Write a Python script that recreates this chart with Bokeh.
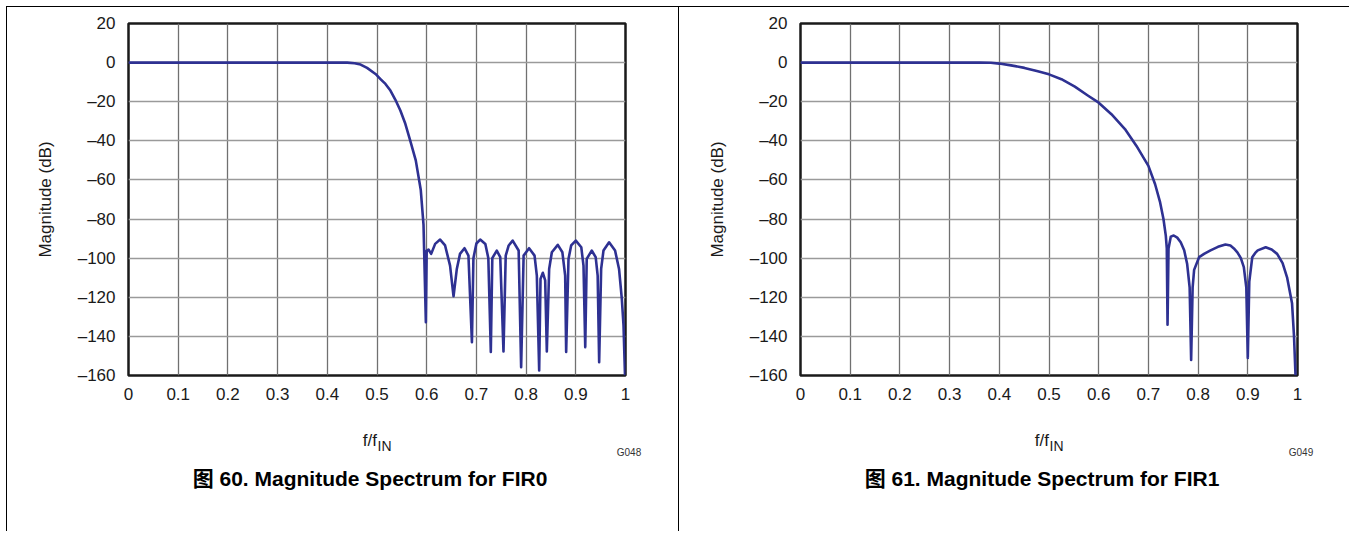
from bokeh.plotting import figure
from bokeh.layouts import row, column
from bokeh.models import FixedTicker, CustomJSTickFormatter, Range1d, Div
from bokeh.embed import file_html
from bokeh.resources import INLINE

# ---------------- data ----------------
freq_fir0 = [0.0, 0.44, 0.455, 0.467, 0.48, 0.497, 0.507, 0.517, 0.527, 0.537,
             0.547, 0.557, 0.567, 0.578, 0.588, 0.5936, 0.5983, 0.600, 0.6036,
             0.609, 0.617, 0.627, 0.637, 0.647, 0.654, 0.6606, 0.667, 0.676,
             0.684, 0.691, 0.694, 0.700, 0.7076, 0.718, 0.724, 0.729, 0.732,
             0.741, 0.748, 0.7545, 0.759, 0.765, 0.773, 0.785, 0.790, 0.795,
             0.806, 0.817, 0.8216, 0.8263, 0.829, 0.8337, 0.8384, 0.8417,
             0.8464, 0.8518, 0.8638, 0.873, 0.8786, 0.8806, 0.8853, 0.8907,
             0.900, 0.911, 0.9155, 0.919, 0.922, 0.932, 0.940, 0.944, 0.947,
             0.951, 0.9557, 0.967, 0.979, 0.987, 0.9926, 0.996, 0.999]
mag_fir0 = [0.0, 0.0, -0.3, -1.0, -2.7, -5.8, -8.4, -10.9, -14.3, -19.0,
            -24.5, -31.3, -40.0, -50.0, -65.0, -83.0, -132.8, -96.1, -95.6,
            -97.8, -92.7, -90.5, -93.5, -103.8, -119.5, -105.5, -97.8, -94.9,
            -98.7, -143.0, -100.0, -92.5, -90.5, -92.7, -100.0, -148.0, -100.0,
            -96.1, -99.5, -147.7, -98.7, -93.5, -91.0, -96.1, -155.8, -98.7,
            -94.9, -98.7, -108.9, -157.4, -110.6, -107.5, -111.4, -147.7,
            -105.5, -97.0, -93.2, -97.0, -108.9, -148.0, -100.4, -93.5,
            -91.0, -94.4, -103.8, -145.5, -100.4, -96.1, -99.5, -108.9, -153.2,
            -105.5, -96.1, -91.9, -96.1, -105.5, -120.8, -134.4, -160.0]

freq_fir1 = [0.0, 0.36, 0.383, 0.400, 0.4236, 0.4506, 0.4775, 0.500, 0.525,
             0.552, 0.578, 0.600, 0.6256, 0.6528, 0.676, 0.700, 0.7135, 0.7236,
             0.7303, 0.735, 0.737, 0.7385, 0.7405, 0.745, 0.751, 0.758,
             0.765, 0.772, 0.778, 0.783, 0.786, 0.789, 0.792, 0.802, 0.812,
             0.825, 0.840, 0.855, 0.865, 0.872, 0.879, 0.886, 0.892, 0.897,
             0.900, 0.903, 0.909, 0.915, 0.920, 0.936, 0.948, 0.959, 0.970,
             0.979, 0.989, 0.993, 0.996]
mag_fir1 = [0.0, 0.0, -0.1, -0.5, -1.4, -2.7, -4.4, -6.0, -8.5,
            -12.3, -16.8, -20.5, -26.4, -34.0, -42.6, -52.8, -62.2, -71.5,
            -80.0, -88.5, -95.0, -134.0, -95.0, -89.0, -88.4, -89.5,
            -91.9, -96.0, -103.0, -115.0, -152.0, -115.0, -106.0, -99.5, -97.8,
            -96.0, -94.2, -93.0, -93.5, -95.0, -97.0, -100.0, -104.6, -115.0,
            -151.0, -112.0, -99.5, -97.3, -96.0, -94.4, -95.6, -97.8, -102.5,
            -109.8, -123.0, -140.0, -160.0]

x_ticks = [0.0, 0.1, 0.2, 0.3, 0.4, 0.5, 0.6, 0.7, 0.8, 0.9, 1.0]
y_ticks = [20, 0, -20, -40, -60, -80, -100, -120, -140, -160]
captions = ["图 60. Magnitude Spectrum for FIR0", "图 61. Magnitude Spectrum for FIR1"]
codes = ["G048", "G049"]
y_label = "Magnitude (dB)"
x_label_main = "f/f"
x_label_sub = "IN"

FONT = "Liberation Sans"
LINE = "#2E3192"
TOP = 17
BOTTOM = 50
DIV_H = 106


def make(freq, mag, caption, code, left_b, right_b):
    p = figure(frame_width=497, frame_height=352,
               min_border_left=left_b, min_border_right=right_b,
               min_border_top=TOP, min_border_bottom=BOTTOM,
               x_range=Range1d(0, 1), y_range=Range1d(-160, 20),
               output_backend="svg", toolbar_location=None,
               border_fill_color=None, background_fill_color="white",
               outline_line_color="#1a1a1a", outline_line_width=2.5)
    p.line(freq, mag, line_color=LINE, line_width=2.6, line_join="round")

    p.xaxis.ticker = FixedTicker(ticks=x_ticks)
    p.yaxis.ticker = FixedTicker(ticks=y_ticks)
    p.xaxis.formatter = CustomJSTickFormatter(code="return String(Math.round(tick*10)/10);")
    p.yaxis.formatter = CustomJSTickFormatter(
        code="return tick < 0 ? '\u2013' + Math.abs(tick) : String(tick);")
    for ax in (p.xaxis, p.yaxis):
        ax.axis_line_color = None
        ax.major_tick_line_color = None
        ax.minor_tick_line_color = None
        ax.major_tick_out = 0
        ax.major_tick_in = 0
        ax.major_label_text_font = FONT
        ax.major_label_text_font_size = "17px"
        ax.major_label_text_color = "#1a1a1a"
    p.xaxis.major_label_standoff = 12
    p.yaxis.major_label_standoff = 13
    p.yaxis.axis_label = y_label
    p.yaxis.axis_label_text_font = FONT
    p.yaxis.axis_label_text_font_size = "17px"
    p.yaxis.axis_label_text_font_style = "normal"
    p.yaxis.axis_label_text_color = "#1a1a1a"
    p.yaxis.axis_label_standoff = 20

    p.xgrid.grid_line_color = "#707070"
    p.xgrid.grid_line_width = 1.3
    p.ygrid.grid_line_color = "#9a9a9a"
    p.ygrid.grid_line_width = 1.5

    width = left_b + 497 + right_b
    cx = left_b + 249
    html = (
        f'<div style="position:relative;width:{width}px;height:{DIV_H}px;'
        f'font-family:\'Liberation Sans\',\'Noto Sans CJK SC\',sans-serif;color:#1a1a1a;">'
        f'<span style="position:absolute;left:{cx}px;top:7px;font-size:17px;line-height:17px;'
        f'transform:translateX(-100%);white-space:nowrap;">{x_label_main}</span>'
        f'<span style="position:absolute;left:{cx + 0.5}px;top:14px;font-size:14px;line-height:14px;'
        f'white-space:nowrap;">{x_label_sub}</span>'
        f'<span style="position:absolute;left:{cx - 7}px;top:43px;font-size:21px;line-height:21px;'
        f'font-weight:bold;color:#000;transform:translateX(-50%);white-space:nowrap;">{caption}</span>'
        f'<span style="position:absolute;left:{left_b + 501}px;top:23px;font-size:10px;line-height:10px;'
        f'color:#333;transform:translateX(-50%);white-space:nowrap;">{code}</span>'
        f'</div>'
    )
    d = Div(text=html, width=width, height=DIV_H, margin=0)
    return column(p, d, styles={"box-shadow": "inset 1px 1px 0 0 #000"})


c1 = make(freq_fir0, mag_fir0, captions[0], codes[0], 122, 53)
c2 = make(freq_fir1, mag_fir1, captions[1], codes[1], 122, 52)
page = row(c1, c2, margin=(6, 0, 0, 6))

open("out.html", "w", encoding="utf-8").write(file_html(page, INLINE))
